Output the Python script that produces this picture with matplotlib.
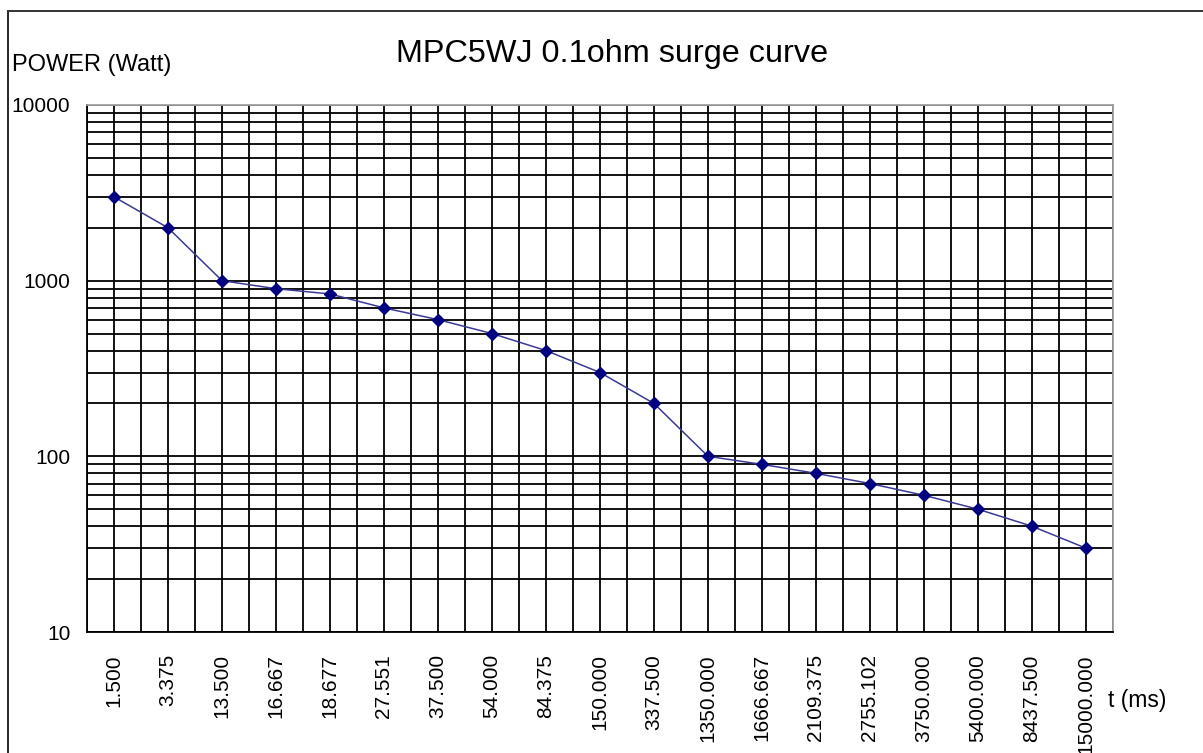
import numpy as np
import matplotlib
matplotlib.use("Agg")
import matplotlib.pyplot as plt
from matplotlib.ticker import LogLocator, NullFormatter, FixedLocator
from matplotlib.lines import Line2D

plt.rcParams['font.family'] = ['Liberation Sans', 'DejaVu Sans']

# surge curve data
t_labels = ["1.500", "3.375", "13.500", "16.667", "18.677", "27.551", "37.500",
            "54.000", "84.375", "150.000", "337.500", "1350.000", "1666.667",
            "2109.375", "2755.102", "3750.000", "5400.000", "8437.500", "15000.000"]
power_w = [3000, 2000, 1000, 900, 840, 700, 600, 500, 400, 300, 200,
           100, 90, 80, 70, 60, 50, 40, 30]
y_ticks = [10, 100, 1000, 10000]

W, H = 1203, 753
fig = plt.figure(figsize=(W / 100, H / 100), dpi=100)
ax = fig.add_axes([87 / W, 1 - 632 / H, (1113 - 87) / W, (632 - 105) / H])

x = np.arange(len(t_labels))
ax.plot(x, power_w, color='#3A3A96', lw=1.1, marker='D', markersize=6,
        markerfacecolor='#000080', markeredgecolor='#000080', zorder=5)

ax.set_yscale('log')
ax.set_ylim(10, 10000)
ax.set_xlim(-0.5, len(t_labels) - 0.5)

ax.set_yticks(y_ticks)
ax.set_yticklabels([str(v) for v in y_ticks])
ax.yaxis.set_minor_locator(LogLocator(base=10, subs=np.arange(2, 10)))
ax.yaxis.set_minor_formatter(NullFormatter())

ax.set_xticks(x)
ax.set_xticklabels(t_labels, rotation=90, va='top')
ax.xaxis.set_minor_locator(FixedLocator(np.arange(-0.5, len(t_labels), 1.0)))

ax.grid(True, which='both', color='black', lw=1.3)
ax.set_axisbelow(True)
ax.tick_params(axis='both', which='both', length=0)
ax.tick_params(axis='y', labelsize=15, pad=12)
ax.tick_params(axis='x', labelsize=15, pad=16)

for s in ['left', 'bottom']:
    ax.spines[s].set_color('black')
    ax.spines[s].set_linewidth(1.3)
for s in ['top', 'right']:
    ax.spines[s].set_color('#a0a0a0')
    ax.spines[s].set_linewidth(1.3)

fig.text(612 / W, 1 - 54 / H, "MPC5WJ 0.1ohm surge curve", fontsize=23.3,
         ha='center', va='center')
fig.text(12 / W, 1 - 65 / H, "POWER (Watt)", fontsize=17, ha='left', va='center')
fig.text(1108 / W, 1 - 700 / H, "t (ms)", fontsize=16.5, ha='left', va='center')

# outer frame (left and top edges)
fig.add_artist(Line2D([8 / W, 8 / W], [0, 1 - 11 / H], transform=fig.transFigure,
                      color='black', lw=1.2))
fig.add_artist(Line2D([8 / W, 1], [1 - 11 / H, 1 - 11 / H], transform=fig.transFigure,
                      color='#333333', lw=1.4))

fig.savefig("out.png", dpi=100)
